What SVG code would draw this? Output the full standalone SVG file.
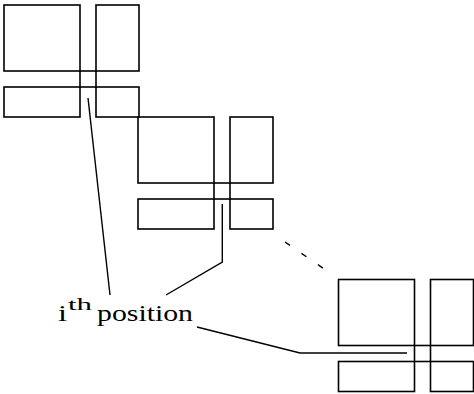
<svg xmlns="http://www.w3.org/2000/svg" width="474" height="394" viewBox="0 0 474 394">
<defs>
<style>
.r{fill:none;stroke:#000;stroke-width:1.6}
.c{fill:none;stroke:#000;stroke-width:1.4}
.t{font-family:"Liberation Serif","Times New Roman",serif;fill:#000}
</style>
<g id="tile">
<rect class="r" x="0" y="0" width="76" height="66"/>
<rect class="r" x="92" y="0" width="43" height="66"/>
<rect class="r" x="0" y="82" width="76" height="30"/>
<rect class="r" x="92" y="82" width="43" height="30"/>
<rect class="r" x="76" y="66" width="16" height="16"/>
</g>
</defs>
<rect width="474" height="394" fill="#fff"/>
<g id="node1"><use href="#tile" x="4" y="5"/></g>
<g id="node2"><use href="#tile" x="138" y="117"/></g>
<g id="node3"><use href="#tile" x="338.5" y="279.5"/></g>
<g id="label"><text class="t" x="58" y="321" font-size="24" textLength="9" lengthAdjust="spacingAndGlyphs">i</text><text class="t" x="68" y="310" font-size="17" textLength="24" lengthAdjust="spacingAndGlyphs">th</text><text class="t" x="97" y="321" font-size="24" textLength="96" lengthAdjust="spacingAndGlyphs">position</text></g>
<g id="connectors">
<polyline class="c" points="88,98 110,295"/>
<polyline class="c" points="222.3,204 222.3,262 166,295"/>
<line class="c" x1="285" y1="242" x2="330" y2="273" stroke-dasharray="6,14"/>
<polyline class="c" points="197,327 300,353 407,353"/>
</g>
</svg>
